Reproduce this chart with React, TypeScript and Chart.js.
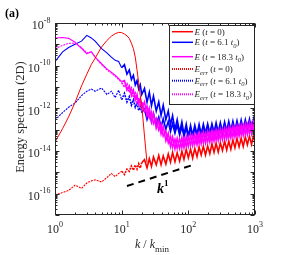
import { useEffect, useRef } from "react";
import { Chart, registerables } from "chart.js";

Chart.register(...registerables);

// ---------- data (log10 of the spectrum values) ----------
const kValues = [
  1, 1.3, 1.6, 2, 2.5, 3, 3.5, 4, 5, 6, 7, 8, 9, 10, 11, 12, 13, 14, 15, 16, 17, 18, 19, 20,
  22, 24, 26, 28, 30, 33, 36, 39, 42, 46, 50, 54, 58, 63, 68, 74, 80, 86, 93, 100, 108, 116,
  125, 135, 145, 156, 168, 181, 195, 210, 226, 243, 261, 281, 302, 325, 350, 376, 404, 434,
  466, 500, 537, 577, 620, 666, 716, 769, 826, 887, 953, 1000,
];

const E_t0 = [
  -13.58, -12.95, -12.4, -11.72, -10.95, -10.4, -9.95, -9.65, -9.12, -8.82, -8.62, -8.5, -8.44,
  -8.45, -8.52, -8.6, -8.72, -8.95, -9.2, -9.6, -10.2, -10.8, -11.4, -11.85, -13.3, -14.55,
];

const E_t61 = [
  -9.81, -9.35, -9.15, -9.0, -8.85, -8.58, -8.7, -8.85, -9.2, -9.4, -9.6, -9.75, -9.8, -10.1,
  -9.95, -10.4, -10.2, -10.65, -10.45, -10.9, -10.7, -11.1, -10.9, -11.35,
  -11.07, -11.71, -11.25, -11.87, -11.43, -12.12, -11.7, -12.33, -11.85, -12.53, -12.12, -12.77,
  -12.34, -13.0, -12.53, -13.12, -12.64, -13.22, -12.74, -13.3, -12.8, -13.27, -12.79, -13.22,
  -12.75, -13.21, -12.74, -13.17, -12.73, -13.16, -12.72, -13.13, -12.68, -13.13, -12.67, -13.09,
  -12.64, -13.08, -12.61, -13.05, -12.61, -13.05, -12.58, -13.01, -12.55, -13.0, -12.54, -12.97,
  -12.51, -12.97, -12.5, -12.83,
];

const E_t183 = [
  -8.7, -8.68, -8.72, -8.9, -9.2, -9.45, -9.35, -9.6, -9.9, -10.15, -10.3, -10.45, -10.6, -10.75,
  -10.7, -11.15, -10.95, -11.4, -11.15, -11.6, -11.35, -11.8, -11.55, -12.0,
  -11.7, -12.35, -12.0, -12.62, -12.24, -12.93, -12.57, -13.2, -12.85, -13.52, -13.17, -13.78,
  -13.35, -13.9, -13.41, -13.89, -13.37, -13.85, -13.32, -13.79, -13.26, -13.74, -13.22, -13.7,
  -13.18, -13.66, -13.14, -13.62, -13.1, -13.58, -13.06, -13.54, -13.02, -13.5, -12.98, -13.46,
  -12.94, -13.42, -12.9, -13.38, -12.86, -13.34, -12.82, -13.3, -12.78, -13.26, -12.74, -13.22,
  -12.7, -13.18, -12.66, -13.0,
];

const Eerr_t0 = [
  -16.06, -15.95, -15.85, -15.6, -15.75, -15.5, -15.4, -15.35, -15.45, -15.25, -15.05, -15.2,
  -15.05, -14.95, -15.1, -14.85, -14.95, -14.7, -14.9, -14.65, -14.85, -14.6, -14.8, -14.55,
  -14.4, -14.79, -14.36, -14.72, -14.28, -14.65, -14.21, -14.64, -14.23, -14.61, -14.14, -14.52,
  -14.07, -14.5, -14.08, -14.47, -14.01, -14.39, -13.92, -14.32, -13.91, -14.33, -13.88, -14.26,
  -13.8, -14.19, -13.78, -14.19, -13.76, -14.12, -13.66, -14.06, -13.64, -14.05, -13.62, -13.98,
  -13.53, -13.95, -13.54, -13.92, -13.48, -13.85, -13.41, -13.81, -13.4, -13.79, -13.34, -13.71,
  -13.3, -13.69, -13.26, -13.6,
];

const Eerr_t61 = [
  -12.55, -12.2, -11.95, -11.75, -11.4, -11.2, -11.1, -11.2, -11.05, -11.35, -11.2, -11.5, -11.15,
  -11.6, -11.3, -11.7, -11.45, -11.85, -11.6, -11.95, -11.75, -12.1, -11.9, -12.2,
  -12.03, -12.52, -12.16, -12.63, -12.25, -12.75, -12.4, -12.88, -12.49, -12.98, -12.61, -13.09,
  -12.71, -13.17, -12.78, -13.25, -12.86, -13.31, -12.92, -13.35, -12.93, -13.34, -12.92, -13.32,
  -12.88, -13.29, -12.87, -13.27, -12.84, -13.25, -12.83, -13.23, -12.8, -13.21, -12.79, -13.19,
  -12.76, -13.17, -12.75, -13.15, -12.72, -13.13, -12.71, -13.11, -12.68, -13.09, -12.67, -13.07,
  -12.64, -13.05, -12.63, -12.93,
];

const Eerr_t183 = [
  -9.2, -9.05, -8.95, -8.95, -9.15, -9.4, -9.35, -9.6, -9.95, -10.2, -10.35, -10.5, -10.65, -10.8,
  -11.0, -10.85, -11.25, -11.05, -11.5, -11.3, -11.7, -11.5, -11.9, -11.7,
  -12.15, -11.9, -12.45, -12.18, -12.72, -12.47, -13.02, -12.75, -13.3, -13.07, -13.62, -13.33,
  -13.82, -13.45, -13.86, -13.44, -13.82, -13.4, -13.78, -13.34, -13.72, -13.28, -13.68, -13.24,
  -13.64, -13.2, -13.6, -13.16, -13.56, -13.12, -13.52, -13.08, -13.48, -13.04, -13.44, -13.0,
  -13.4, -12.96, -13.36, -12.92, -13.32, -12.88, -13.28, -12.84, -13.24, -12.8, -13.2, -12.76,
  -13.16, -12.72, -13.12, -12.8,
];

const refLineK = [12, 118];
const refLineE = [-15.64, -14.65];

const xTickExps = [0, 1, 2, 3];
const yTickExps = [-16, -14, -12, -10, -8];
const legendTimes = ["0", "6.1", "18.3"];

const RED = "#ff0000";
const BLUE = "#0000ff";
const MAGENTA = "#ff00ff";
const AXIS = "#262626";
const SERIF = '"Liberation Serif", "Times New Roman", serif';

type Part = { t: string; size: number; italic?: boolean; bold?: boolean; dy?: number };

function fontOf(p: Part) {
  return `${p.italic ? "italic " : ""}${p.bold ? "bold " : ""}${p.size}px ${SERIF}`;
}

function drawParts(
  ctx: CanvasRenderingContext2D,
  x: number,
  y: number,
  parts: Part[],
  align: "left" | "center" | "right"
) {
  let w = 0;
  for (const p of parts) {
    ctx.font = fontOf(p);
    w += ctx.measureText(p.t).width;
  }
  let cx = align === "left" ? x : align === "center" ? x - w / 2 : x - w;
  ctx.textAlign = "left";
  ctx.textBaseline = "alphabetic";
  for (const p of parts) {
    ctx.font = fontOf(p);
    ctx.fillText(p.t, cx, y + (p.dy || 0));
    cx += ctx.measureText(p.t).width;
  }
}

function legendParts(isErr: boolean, time: string): Part[] {
  const s = 9;
  const parts: Part[] = [{ t: "E", size: s, italic: true }];
  if (isErr) parts.push({ t: "err", size: 6.5, italic: true, dy: 2.5 });
  parts.push({ t: " (", size: s });
  parts.push({ t: "t", size: s, italic: true });
  if (time === "0") {
    parts.push({ t: " = 0)", size: s });
  } else {
    parts.push({ t: ` = ${time} `, size: s });
    parts.push({ t: "t", size: s, italic: true });
    parts.push({ t: "0", size: 6.5, italic: true, dy: 2.5 });
    parts.push({ t: ")", size: s });
  }
  return parts;
}

const legendRows = [
  { color: RED, dash: [] as number[], err: false, time: legendTimes[0], y: 31.7 },
  { color: BLUE, dash: [], err: false, time: legendTimes[1], y: 42.3 },
  { color: MAGENTA, dash: [], err: false, time: legendTimes[2], y: 56.7 },
  { color: RED, dash: [1, 1], err: true, time: legendTimes[0], y: 69 },
  { color: BLUE, dash: [1, 1], err: true, time: legendTimes[1], y: 80.7 },
  { color: MAGENTA, dash: [1, 1], err: true, time: legendTimes[2], y: 94.3 },
];

const decorPlugin = {
  id: "decor",
  afterDraw(chart: any) {
    const ctx: CanvasRenderingContext2D = chart.ctx;
    const { left, right, top, bottom } = chart.chartArea;
    const xs = chart.scales.x;
    const ys = chart.scales.y;
    ctx.save();

    // axes box
    ctx.strokeStyle = AXIS;
    ctx.lineWidth = 1;
    const L = Math.round(left) + 0.5;
    const R = Math.round(right) - 0.5;
    const T = Math.round(top) + 0.5;
    const B = Math.round(bottom) - 0.5;
    ctx.strokeRect(L, T, R - L, B - T);

    // ticks
    ctx.beginPath();
    for (let e = 0; e <= 3; e++) {
      for (let m = 1; m <= 9; m++) {
        const v = m * Math.pow(10, e);
        if (v > 1000) break;
        const px = Math.round(xs.getPixelForValue(v)) + 0.5;
        const len = m === 1 ? 4 : 2;
        ctx.moveTo(px, B);
        ctx.lineTo(px, B - len);
        ctx.moveTo(px, T);
        ctx.lineTo(px, T + len);
      }
    }
    for (let e = -17; e <= -8; e++) {
      for (let m = 1; m <= 9; m++) {
        if (e === -8 && m > 1) break;
        const v = m * Math.pow(10, e);
        const py = Math.round(ys.getPixelForValue(v)) + 0.5;
        const len = m === 1 ? 4 : 2;
        ctx.moveTo(L, py);
        ctx.lineTo(L + len, py);
        ctx.moveTo(R, py);
        ctx.lineTo(R - len, py);
      }
    }
    ctx.stroke();

    // tick labels
    ctx.fillStyle = AXIS;
    for (const e of xTickExps) {
      const px = xs.getPixelForValue(Math.pow(10, e));
      drawParts(
        ctx,
        px,
        bottom + 17.5,
        [
          { t: "10", size: 12 },
          { t: String(e), size: 8, dy: -6 },
        ],
        "center"
      );
    }
    for (const e of yTickExps) {
      const py = ys.getPixelForValue(Math.pow(10, e));
      drawParts(
        ctx,
        50.5,
        py + 6.3,
        [
          { t: "10", size: 12 },
          { t: String(e), size: 8, dy: -6.8 },
        ],
        "right"
      );
    }

    // axis titles
    drawParts(
      ctx,
      152,
      248,
      [
        { t: "k", size: 12, italic: true },
        { t: " / ", size: 12 },
        { t: "k", size: 12, italic: true },
        { t: "min", size: 9, dy: 4 },
      ],
      "center"
    );
    ctx.save();
    ctx.translate(24, 117);
    ctx.rotate(-Math.PI / 2);
    drawParts(ctx, 0, 0, [{ t: "Energy spectrum (2D)", size: 12.5 }], "center");
    ctx.restore();

    // panel label
    ctx.fillStyle = "#000";
    drawParts(ctx, 5, 17, [{ t: "(a)", size: 12, bold: true }], "left");

    // slope label
    drawParts(
      ctx,
      157,
      193,
      [
        { t: "k", size: 14, italic: true, bold: true },
        { t: "1", size: 9, bold: true, dy: -7 },
      ],
      "left"
    );

    // legend
    const lx0 = 169.5;
    const ly0 = 25.5;
    const lx1 = 254.5;
    const ly1 = 104.5;
    ctx.fillStyle = "#ffffff";
    ctx.fillRect(lx0, ly0, lx1 - lx0, ly1 - ly0);
    ctx.strokeStyle = AXIS;
    ctx.lineWidth = 1;
    ctx.setLineDash([]);
    ctx.strokeRect(lx0, ly0, lx1 - lx0, ly1 - ly0);
    for (const row of legendRows) {
      ctx.strokeStyle = row.color;
      ctx.lineWidth = row.err ? 2 : 1.5;
      ctx.setLineDash(row.dash);
      ctx.beginPath();
      ctx.moveTo(172, row.y);
      ctx.lineTo(193, row.y);
      ctx.stroke();
      ctx.setLineDash([]);
      ctx.fillStyle = AXIS;
      drawParts(ctx, 194.5, row.y + 3, legendParts(row.err, row.time), "left");
    }
    ctx.restore();
  },
};

const toPts = (vals: number[]) => vals.map((v, i) => ({ x: kValues[i], y: Math.pow(10, v) }));

// dotted at low k, dense (solid-looking) in the noisy high-k part
const dottedLowK = { borderDash: (c: any) => (c.p0.parsed.x >= 20 ? [] : [2, 1]) };
const widerHighK = { borderWidth: (c: any) => (c.p0.parsed.x >= 10 ? 1.6 : 1.1) };

export default function App() {
  const ref = useRef<HTMLCanvasElement | null>(null);
  useEffect(() => {
    if (!ref.current) return;
    const common = { pointRadius: 0, fill: false, tension: 0 };
    const chart = new Chart(ref.current, {
      type: "line",
      data: {
        datasets: [
          { ...common, label: "E0", data: toPts(E_t0), borderColor: RED, borderWidth: 1, order: 0 },
          {
            ...common,
            label: "k1",
            data: refLineK.map((k, i) => ({ x: k, y: Math.pow(10, refLineE[i]) })),
            borderColor: "#000",
            borderWidth: 2,
            borderDash: [7, 5],
            order: 0,
          },
          {
            ...common, label: "Eerr183", data: toPts(Eerr_t183), borderColor: MAGENTA, borderWidth: 1.1,
            borderDash: [2, 1], segment: { ...dottedLowK, ...widerHighK }, order: 1,
          },
          {
            ...common, label: "E183", data: toPts(E_t183), borderColor: MAGENTA, borderWidth: 1.1,
            segment: widerHighK, order: 2,
          },
          {
            ...common, label: "Eerr61", data: toPts(Eerr_t61), borderColor: BLUE, borderWidth: 1.1,
            borderDash: [2, 1], segment: { ...dottedLowK, ...widerHighK }, order: 3,
          },
          {
            ...common, label: "E61", data: toPts(E_t61), borderColor: BLUE, borderWidth: 1.1,
            segment: widerHighK, order: 4,
          },
          {
            ...common, label: "Eerr0", data: toPts(Eerr_t0), borderColor: RED, borderWidth: 1.1,
            borderDash: [2, 1], segment: { ...dottedLowK, ...widerHighK }, order: 5,
          },
        ],
      },
      options: {
        animation: false,
        responsive: false,
        layout: { padding: { left: 55, top: 23, right: 26, bottom: 40 } },
        scales: {
          x: { type: "logarithmic", min: 1, max: 1000, display: false },
          y: { type: "logarithmic", min: 1e-17, max: 1e-8, display: false },
        },
        plugins: { legend: { display: false }, tooltip: { enabled: false } },
      },
      plugins: [decorPlugin],
    } as any);
    return () => chart.destroy();
  }, []);
  return (
    <div style={{ position: "absolute", left: 0, top: 0, width: 281, height: 255, background: "#fff" }}>
      <canvas ref={ref} width={281} height={255} style={{ display: "block" }} />
    </div>
  );
}
